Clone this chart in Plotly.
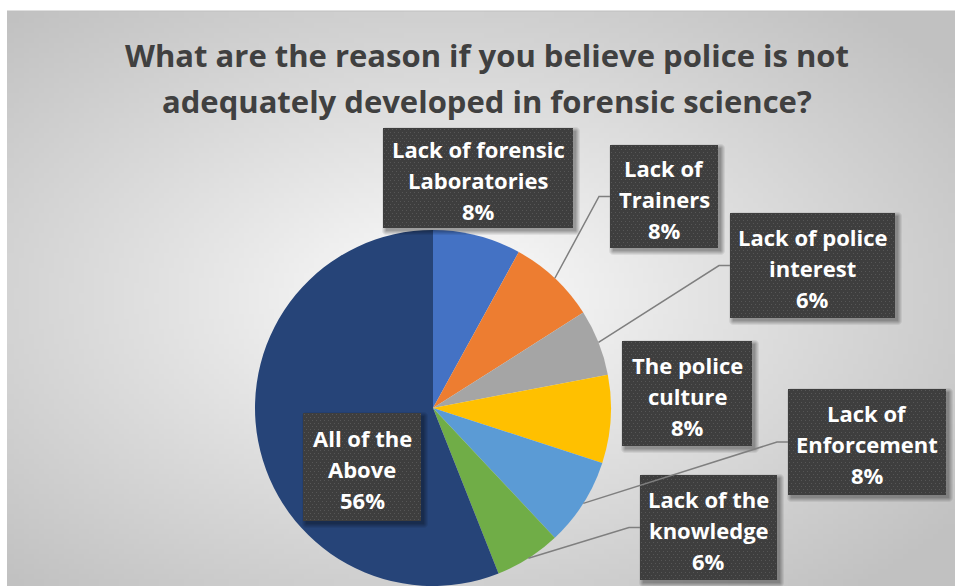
import math, zlib, struct, base64
import plotly.graph_objects as go

# ---------------- data ----------------
categories = ["Lack of forensic Laboratories", "Lack of Trainers", "Lack of police interest",
              "The police culture", "Lack of Enforcement", "Lack of the knowledge", "All of the Above"]
label_lines = [["Lack of forensic", "Laboratories"], ["Lack of", "Trainers"], ["Lack of police", "interest"],
               ["The police", "culture"], ["Lack of", "Enforcement"], ["Lack of the", "knowledge"],
               ["All of the", "Above"]]
values = [4, 4, 3, 4, 4, 3, 28]
colors = ["#4472C4", "#ED7D31", "#A5A5A5", "#FFC000", "#5B9BD5", "#70AD47", "#264478"]
title_lines = ["What are the reason if you believe police is not",
               "adequately developed in forensic science?"]

# ---------------- layout constants (pixels) ----------------
W, H = 955, 586
CX, CY, R = 433, 408, 178
# label boxes: (left, top, right, bottom)
boxes = [(383, 128, 573, 228), (610, 145, 718, 248), (730, 213, 895, 318),
         (622, 341, 752, 446), (788, 389, 946, 495), (640, 475, 777, 580),
         (303, 413, 421, 521)]
leader = [False, True, True, False, True, True, False]
FONT = "Open Sans"

def px(x): return x / W
def py(y): return 1 - y / H

# ---------------- tiny png writer ----------------
def png_uri(w, h, pixels, mode):
    raw = b"".join(b"\x00" + bytes(row) for row in pixels)
    def chunk(t, d):
        c = struct.pack(">I", len(d)) + t + d
        return c + struct.pack(">I", zlib.crc32(t + d) & 0xffffffff)
    data = b"\x89PNG\r\n\x1a\n" + chunk(b"IHDR", struct.pack(">IIBBBBB", w, h, 8, mode, 0, 0, 0)) \
        + chunk(b"IDAT", zlib.compress(raw, 9)) + chunk(b"IEND", b"")
    return "data:image/png;base64," + base64.b64encode(data).decode()

# background radial gradient
GX0, GY0 = 7, 11
gw, gh = 190, 115
rows = []
for j in range(gh):
    row = []
    for i in range(gw):
        dx = (i / (gw - 1) - 0.46) / 0.5
        dy = (j / (gh - 1) - 0.5) / 0.5
        t = min(1.0, math.sqrt(dx * dx + dy * dy) / 1.35)
        row.append(int(round(255 - 62 * t ** 0.9)))
    rows.append(row)
bg_uri = png_uri(gw, gh, rows, 0)

def box_uri(w, h):
    pad_l, pad_r = 2, 9
    iw, ih = w + pad_l + pad_r, h + pad_l + pad_r
    rows = []
    for y in range(ih):
        row = []
        for x in range(iw):
            bx, by = x - pad_l, y - pad_l
            if 0 <= bx < w and 0 <= by < h:
                dot = (by % 3 == 1) and ((bx + ((by // 3) % 2) * 2) % 4 == 1)
                c = 86 if dot else 62
                row += [c, c, c, 255]
            else:
                sx, sy = bx - 3, by - 3
                ddx = max(0 - sx, 0, sx - (w - 1))
                ddy = max(0 - sy, 0, sy - (h - 1))
                d = math.sqrt(ddx * ddx + ddy * ddy)
                a = max(0.0, 1 - d / 5.0) * 0.35
                row += [0, 0, 0, int(a * 255)]
        rows.append(row)
    return png_uri(iw, ih, rows, 6), pad_l, iw, ih

fig = go.Figure()
fig.add_trace(go.Pie(
    labels=categories, values=values, sort=False, direction="clockwise", rotation=0,
    marker=dict(colors=colors, line=dict(width=0)), textinfo="none", hoverinfo="label+percent",
    domain=dict(x=[px(CX - R), px(CX + R)], y=[py(CY + R), py(CY - R)]), showlegend=False,
))

images = [dict(source=bg_uri, xref="paper", yref="paper", x=px(GX0), y=py(GY0),
               sizex=px(W - GX0), sizey=(H - GY0) / H, sizing="stretch", layer="below",
               xanchor="left", yanchor="top")]
annotations = []
shapes = [dict(type="line", xref="paper", yref="paper", x0=px(GX0), x1=1, y0=py(GY0), y1=py(GY0),
               line=dict(color="#bfbfbf", width=1))]

for k, tl in enumerate(title_lines):
    annotations.append(dict(text="<b>%s</b>" % tl, x=px(487), y=py(55 + 46 * k), xref="paper", yref="paper",
                            showarrow=False, xanchor="center", yanchor="middle",
                            font=dict(family=FONT, size=31, color="#404040")))

total = sum(values)
cum = 0
for k, v in enumerate(values):
    mid = (cum + v / 2) / total * 2 * math.pi
    cum += v
    l, t, r, b = boxes[k]
    uri, pad, iw, ih = box_uri(r - l, b - t)
    images.append(dict(source=uri, xref="paper", yref="paper", x=px(l - pad), y=py(t - pad),
                       sizex=iw / W, sizey=ih / H, sizing="stretch", layer="above",
                       xanchor="left", yanchor="top"))
    lines = label_lines[k] + ["%d%%" % round(v / total * 100)]
    cy = (t + b) / 2 + 2
    for i, s in enumerate(lines):
        annotations.append(dict(text="<b>%s</b>" % s, x=px((l + r) / 2), y=py(cy + (i - 1) * 31),
                                xref="paper", yref="paper", showarrow=False,
                                xanchor="center", yanchor="middle",
                                font=dict(family=FONT, size=22, color="white")))
    if leader[k]:
        ex = CX + R * math.sin(mid)
        ey = CY - R * math.cos(mid)
        ly = (t + b) / 2
        shapes.append(dict(type="path", xref="paper", yref="paper",
                           path="M %f,%f L %f,%f L %f,%f" % (px(l), py(ly), px(l - 11), py(ly), px(ex), py(ey)),
                           line=dict(color="#7f7f7f", width=1.5)))

fig.update_layout(width=W, height=H, margin=dict(l=0, r=0, t=0, b=0),
                  paper_bgcolor="white", images=images, annotations=annotations, shapes=shapes)
fig.write_html("out.html", config={"displayModeBar": False},
               post_script="document.body.style.margin='0px';")
